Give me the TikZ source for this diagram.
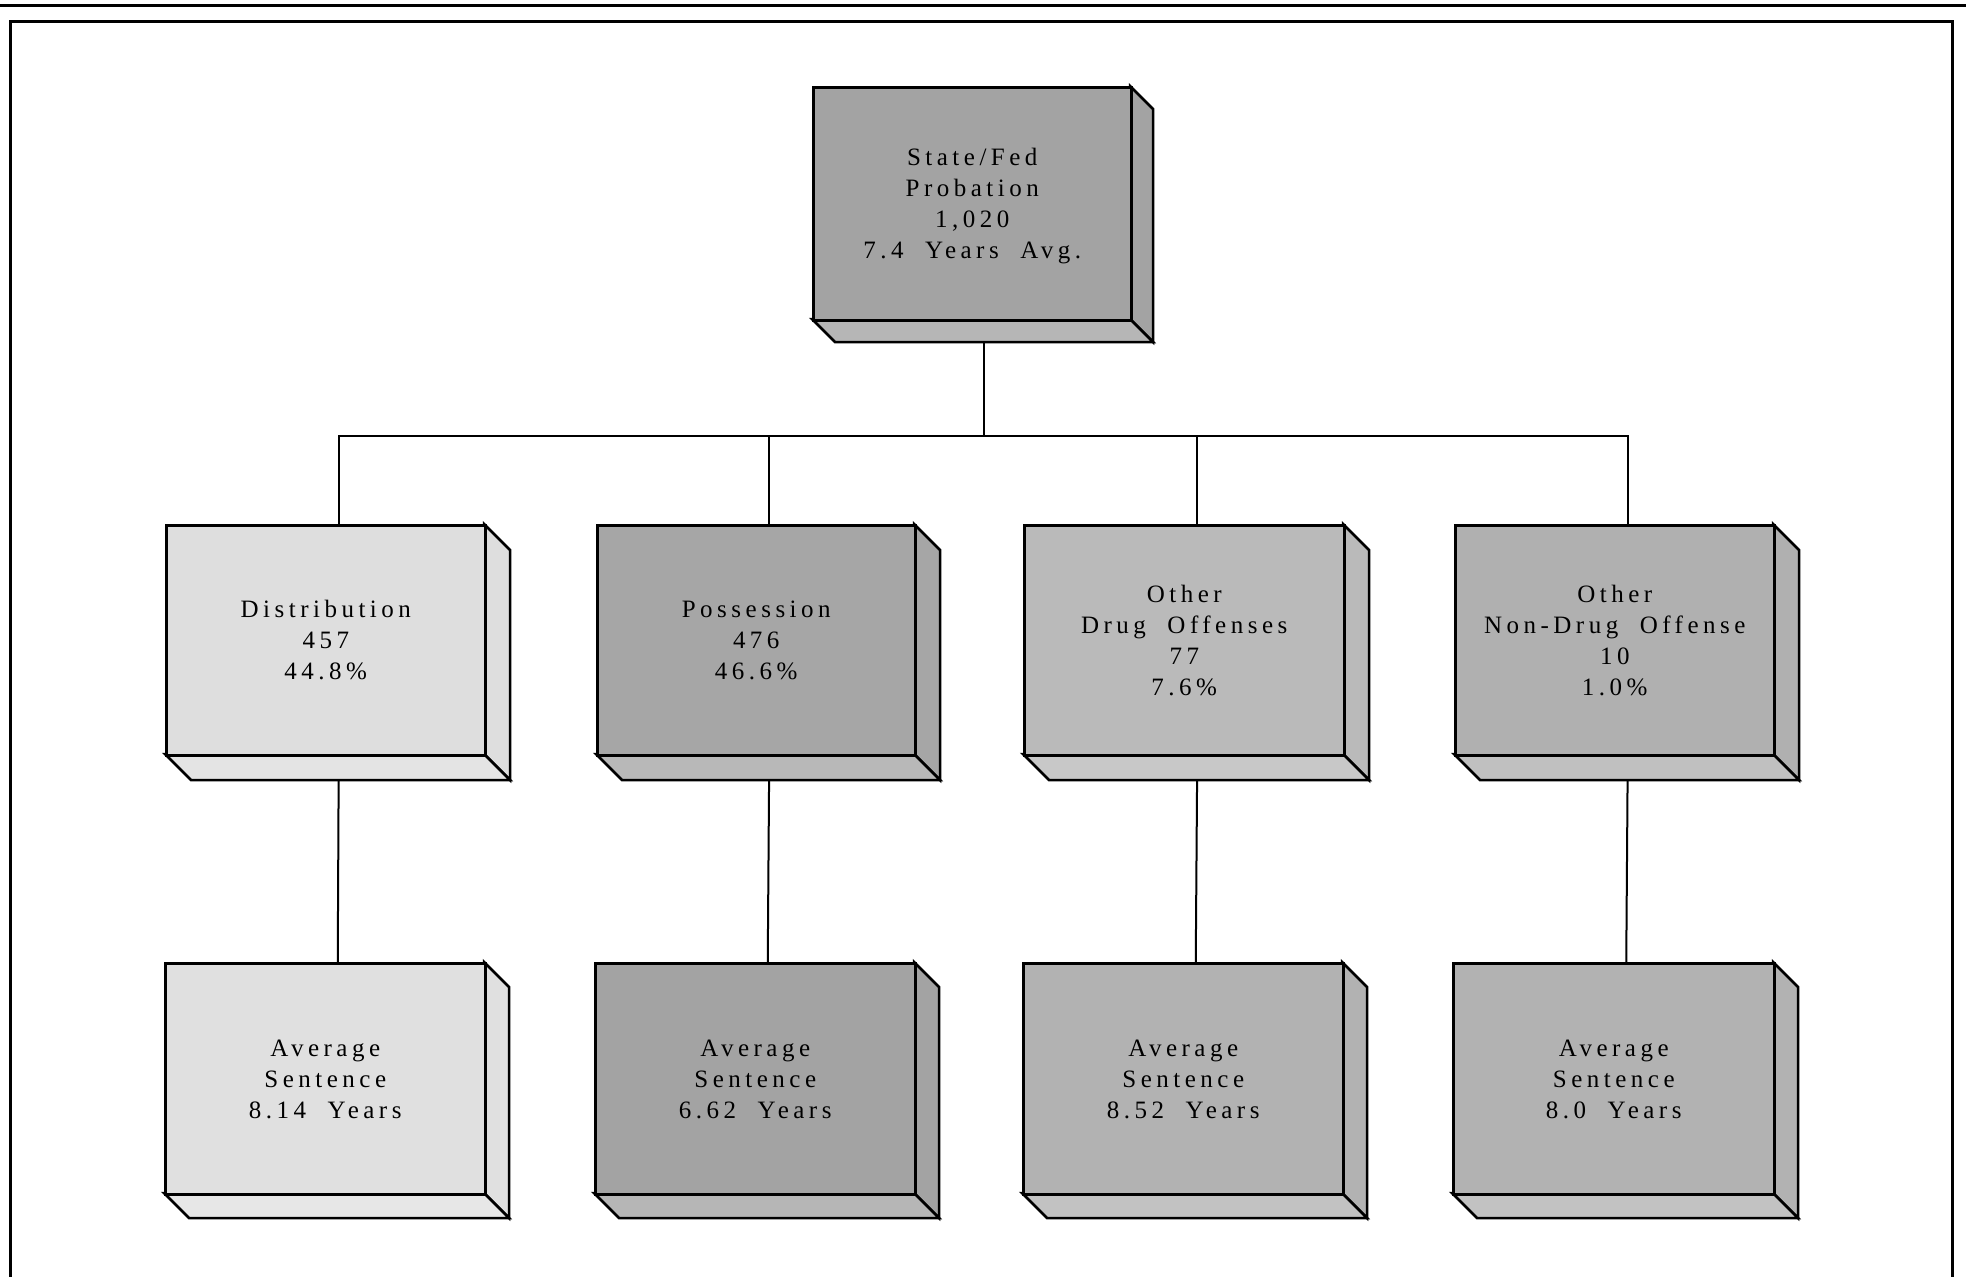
\documentclass[tikz,border=0pt]{standalone}
\usepackage{fontspec}
\setmainfont{Liberation Serif}[LetterSpace=18]
\usetikzlibrary{calc,backgrounds}
\definecolor{gTop}{gray}{0.64}
\definecolor{gDist}{gray}{0.87}
\definecolor{gPoss}{gray}{0.65}
\definecolor{gDrug}{gray}{0.73}
\definecolor{gNon}{gray}{0.69}
\definecolor{gDistA}{gray}{0.88}
\definecolor{gPossA}{gray}{0.64}
\definecolor{gDrugA}{gray}{0.70}
\definecolor{gNonA}{gray}{0.70}
\tikzset{
  cubeface/.style={draw, line width=2.5pt, rectangle, anchor=north west, inner sep=0pt,
    align=center, font=\fontsize{25}{31}\selectfont},
  cubeside/.style={draw, line width=2.5pt, line join=miter},
  link/.style={draw, line width=2pt},
  frameline/.style={draw, line width=3pt}
}
% #1 name, #2 x, #3 y, #4 w, #5 h, #6 fill, #7 depth, #8 text
\newcommand{\cubebox}[8]{%
  \filldraw[cubeside, fill=#6] (#2+#4,#3) -- ++(#7,#7) -- ++(0,#5) -- ++(-#7,-#7) -- cycle;
  \filldraw[cubeside, fill=#6!80!white] (#2,#3+#5) -- ++(#7,#7) -- ++(#4,0) -- ++(-#7,-#7) -- cycle;
  \node[cubeface, fill=#6, minimum width=#4pt, minimum height=#5pt, text depth=0pt] (#1) at (#2,#3) {#8};
  \coordinate (#1-t) at ($(#1.north)+(#7/2,0)$);
  \coordinate (#1-b) at ($(#1.south)+(#7/2,0)$);
}
\begin{document}
\begin{tikzpicture}[x=1pt,y=-1pt]
\useasboundingbox (0,0) rectangle (1966,1277);
\draw[frameline] (0,5) -- (1966,5);
\draw[frameline] (10,1277) -- (10,21) -- (1952,21) -- (1952,1277);

\cubebox{top}{812}{86}{318}{233}{gTop}{23}{State/Fed\\Probation\\1,020\\7.4\ \ Years\ \ Avg.}

\cubebox{dist}{165}{524}{319}{230}{gDist}{26}{Distribution\\457\\44.8\%}
\cubebox{poss}{596}{524}{318}{230}{gPoss}{26}{Possession\\476\\46.6\%}
\cubebox{drug}{1023}{524}{320}{230}{gDrug}{26}{Other\\Drug\ \ Offenses\\77\\7.6\%}
\cubebox{non}{1454}{524}{319}{230}{gNon}{26}{Other\\Non-Drug\ \ Offense\\10\\1.0\%}

\cubebox{distA}{164}{962}{320}{231}{gDistA}{25}{Average\\Sentence\\8.14\ \ Years}
\cubebox{possA}{594}{962}{320}{231}{gPossA}{25}{Average\\Sentence\\6.62\ \ Years}
\cubebox{drugA}{1022}{962}{320}{231}{gDrugA}{25}{Average\\Sentence\\8.52\ \ Years}
\cubebox{nonA}{1452}{962}{321}{231}{gNonA}{25}{Average\\Sentence\\8.0\ \ Years}

\coordinate (bus) at (0,436);
\begin{scope}[on background layer]
  \draw[link] (top-b) -- (top-b |- bus) -| (dist-t);
  \draw[link] (top-b) -- (top-b |- bus) -| (poss-t);
  \draw[link] (top-b) -- (top-b |- bus) -| (drug-t);
  \draw[link] (top-b) -- (top-b |- bus) -| (non-t);
  \draw[link] (dist-b) -- (distA-t);
  \draw[link] (poss-b) -- (possA-t);
  \draw[link] (drug-b) -- (drugA-t);
  \draw[link] (non-b) -- (nonA-t);
\end{scope}
\end{tikzpicture}
\end{document}
